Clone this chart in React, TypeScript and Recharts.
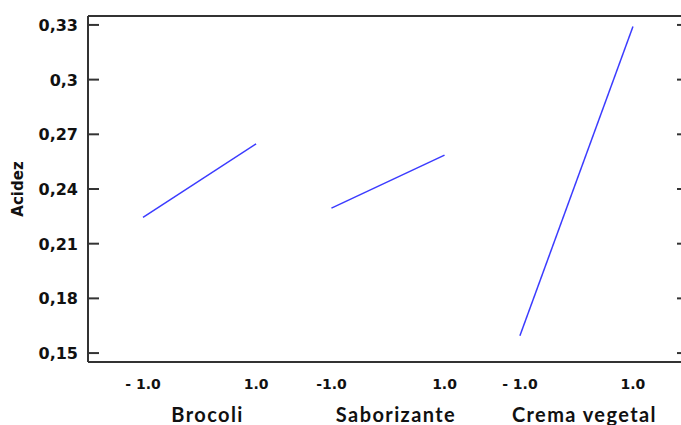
import { LineChart, Line, XAxis, YAxis } from 'recharts';

const factors = ['Brocoli', 'Saborizante', 'Crema vegetal'];
const lowValues = [0.2245, 0.2295, 0.1595];
const highValues = [0.2648, 0.2586, 0.3292];
const yTicks = [0.15, 0.18, 0.21, 0.24, 0.27, 0.3, 0.33];
const levelLabels = ['- 1.0', '1.0', '-1.0', '1.0', '- 1.0', '1.0'];

// each factor takes 3 units, with 2 units of gap between factors
const SPAN = 3;
const STEP = 5;
const levelTicks = factors.flatMap((_, i) => [i * STEP, i * STEP + SPAN]);
const factorTicks = factors.map((_, i) => i * STEP + SPAN / 2);

const series = factors.map((name, i) => ({
    name,
    data: [
        { x: i * STEP, y: lowValues[i] },
        { x: i * STEP + SPAN, y: highValues[i] },
    ],
}));

const X_DOMAIN = [-1.46, 14.46];
const Y_DOMAIN = [0.1451, 0.3349];
const AXIS = '#333';
const LINE = '#3b3bff';
const TICK_FONT = '"DejaVu Sans", Verdana, sans-serif';

// chart is wider than the window, the right frame falls just off the picture
const CHART_W = 696;
const MARGIN = { top: 15, right: 8, bottom: 0, left: 8 };
const Y_AXIS_W = 80;
const PLOT_W = CHART_W - MARGIN.left - MARGIN.right - Y_AXIS_W;

const LeftTick = ({ x, y, payload }: any) => (
    <g>
        <line x1={x} y1={y} x2={x + 11} y2={y} stroke={AXIS} strokeWidth={2} />
        <line x1={x + PLOT_W - 11} y1={y} x2={x + PLOT_W} y2={y} stroke={AXIS} strokeWidth={2} />
        <text x={x - 10} y={y} dy={6} textAnchor="end" fontFamily={TICK_FONT} fontWeight="bold" fontSize={16} fill="#111">
            {String(payload.value).replace('.', ',')}
        </text>
    </g>
);

const LevelTick = ({ x, y, payload, index }: any) => (
    <text x={x} y={y} dy={27} textAnchor="middle" fontFamily={TICK_FONT} fontWeight="bold" fontSize={14} fill="#111">
        {levelLabels[index] ?? payload.value}
    </text>
);

const FactorTick = ({ x, y, index }: any) => (
    <text x={x + 8} y={y} dy={24} textAnchor="middle" fontFamily="Lato, 'Open Sans', sans-serif" fontWeight="bold" fontSize={20} letterSpacing={1.4} fill="#111">
        {factors[index]}
    </text>
);

const YLabel = ({ viewBox }: any) => {
    const cx = viewBox.x + 10;
    const cy = viewBox.y + viewBox.height / 2;
    return (
        <text x={cx} y={cy} transform={`rotate(-90 ${cx} ${cy})`} textAnchor="middle" dy={5} fontFamily={TICK_FONT} fontWeight="bold" fontSize={15} fill="#111">
            Acidez
        </text>
    );
};

export default function App() {
    return (
        <div style={{ position: 'absolute', left: 0, top: 0, width: 681, height: 425, overflow: 'hidden', background: '#fff' }}>
            <LineChart width={CHART_W} height={425} margin={MARGIN}>
                <XAxis
                    xAxisId="a-level"
                    type="number"
                    dataKey="x"
                    domain={X_DOMAIN}
                    ticks={levelTicks}
                    allowDataOverflow
                    height={36}
                    tickSize={0}
                    tickMargin={0}
                    tickLine={false}
                    axisLine={{ stroke: AXIS, strokeWidth: 2 }}
                    tick={<LevelTick />}
                    interval={0}
                />
                <XAxis
                    xAxisId="b-factor"
                    type="number"
                    dataKey="x"
                    domain={X_DOMAIN}
                    ticks={factorTicks}
                    allowDataOverflow
                    height={27}
                    tickSize={0}
                    tickMargin={0}
                    tickLine={false}
                    axisLine={false}
                    tick={<FactorTick />}
                    interval={0}
                />
                <XAxis
                    xAxisId="top"
                    orientation="top"
                    type="number"
                    dataKey="x"
                    domain={X_DOMAIN}
                    allowDataOverflow
                    height={1}
                    tick={false}
                    tickLine={false}
                    axisLine={{ stroke: AXIS, strokeWidth: 2 }}
                />
                <YAxis
                    yAxisId="left"
                    type="number"
                    domain={Y_DOMAIN}
                    ticks={yTicks}
                    allowDataOverflow
                    width={Y_AXIS_W}
                    tickSize={0}
                    tickMargin={0}
                    tickLine={false}
                    axisLine={{ stroke: AXIS, strokeWidth: 2 }}
                    tick={<LeftTick />}
                    interval={0}
                    label={<YLabel />}
                />
                {series.map((s) => (
                    <Line
                        key={s.name}
                        xAxisId="a-level"
                        yAxisId="left"
                        data={s.data}
                        dataKey="y"
                        type="linear"
                        stroke={LINE}
                        strokeWidth={1.5}
                        dot={false}
                        isAnimationActive={false}
                    />
                ))}
            </LineChart>
        </div>
    );
}
